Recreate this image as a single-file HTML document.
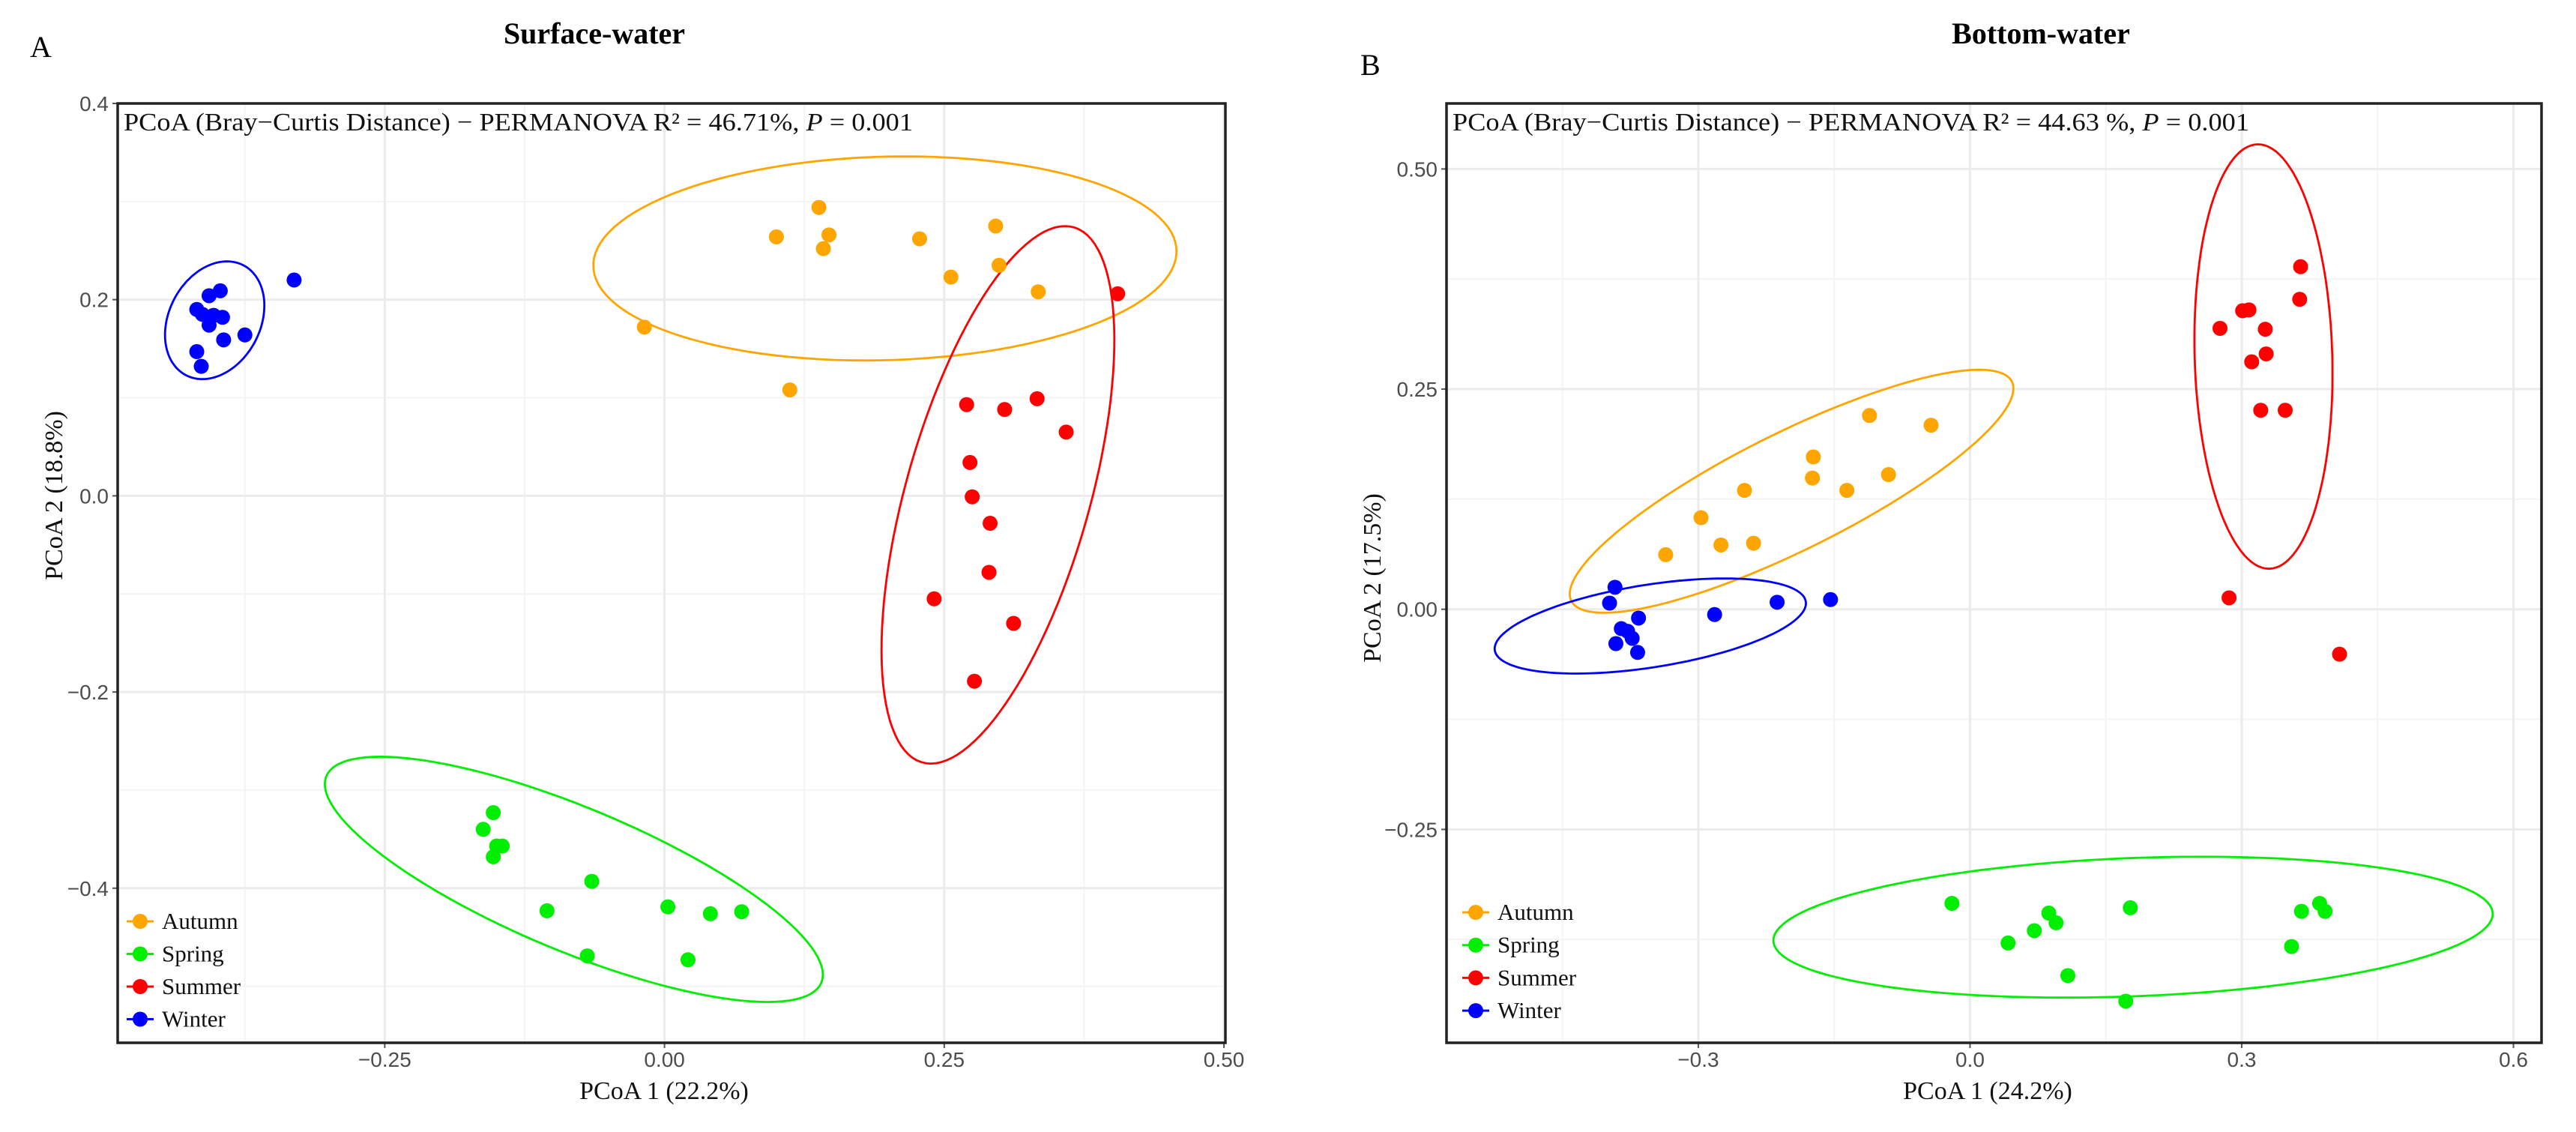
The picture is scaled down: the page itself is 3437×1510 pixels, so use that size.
<!DOCTYPE html>
<html><head><meta charset="utf-8">
<style>
html,body{margin:0;padding:0;background:#fff;}
svg{display:block;}
text{font-family:"Liberation Serif",serif;}
.tick{font-family:"Liberation Sans",sans-serif;font-size:28px;fill:#4d4d4d;}
</style></head>
<body>
<svg id="chart" width="3437" height="1510" viewBox="0 0 3437 1510" xmlns="http://www.w3.org/2000/svg"></svg>
<script>
// ---------- Panel A data (Surface-water) ----------
const seasons = ["Autumn","Spring","Summer","Winter"];
const seasonColors = ["#FFA500","#00EE00","#FF0000","#0000FF"];
const aAutumnX = [0.138,0.100,0.147,0.142,0.228,0.296,0.299,0.256,0.334,-0.018,0.112];
const aAutumnY = [0.294,0.264,0.266,0.252,0.262,0.275,0.235,0.223,0.208,0.172,0.108];
const aSpringX = [-0.153,-0.162,-0.150,-0.145,-0.153,-0.065,-0.105,0.003,0.041,0.069,-0.069,0.021];
const aSpringY = [-0.323,-0.340,-0.357,-0.357,-0.368,-0.393,-0.423,-0.419,-0.426,-0.424,-0.469,-0.473];
const aSummerX = [0.405,0.270,0.304,0.333,0.359,0.273,0.275,0.291,0.290,0.241,0.312,0.277];
const aSummerY = [0.206,0.093,0.088,0.099,0.065,0.034,-0.001,-0.028,-0.078,-0.105,-0.130,-0.189];
const aWinterX = [-0.331,-0.397,-0.407,-0.418,-0.413,-0.403,-0.395,-0.407,-0.375,-0.394,-0.418,-0.414];
const aWinterY = [0.220,0.209,0.204,0.190,0.185,0.184,0.182,0.174,0.164,0.159,0.147,0.132];
// ellipse stats: center, conjugate half-axis a (x,y), horizontal half-axis b
const aEllCx = [0.197,-0.081,0.298,-0.402];
const aEllCy = [0.242,-0.391,0.001,0.179];
const aEllAx = [0.018,-0.173,0.060,0.011];
const aEllAy = [0.104,0.125,0.274,0.060];
const aEllB  = [0.260,0.140,0.085,0.043];
const aXTicks = [-0.25,0,0.25,0.5];
const aXTickLabels = ["\u22120.25","0.00","0.25","0.50"];
const aYTicks = [0.4,0.2,0,-0.2,-0.4];
const aYTickLabels = ["0.4","0.2","0.0","\u22120.2","\u22120.4"];

// ---------- Panel B data (Bottom-water) ----------
const bAutumnX = [-0.111,-0.043,-0.173,-0.174,-0.090,-0.136,-0.249,-0.297,-0.275,-0.239,-0.336];
const bAutumnY = [0.220,0.209,0.173,0.149,0.153,0.135,0.135,0.104,0.073,0.075,0.062];
const bSpringX = [-0.020,0.177,0.087,0.095,0.071,0.042,0.108,0.172,0.386,0.366,0.392,0.355];
const bSpringY = [-0.334,-0.339,-0.345,-0.356,-0.365,-0.379,-0.416,-0.445,-0.334,-0.343,-0.343,-0.383];
const bSummerX = [0.365,0.364,0.276,0.301,0.308,0.326,0.327,0.311,0.321,0.348,0.286,0.408];
const bSummerY = [0.389,0.352,0.319,0.339,0.340,0.318,0.290,0.281,0.226,0.226,0.013,-0.051];
const bWinterX = [-0.392,-0.398,-0.154,-0.213,-0.282,-0.366,-0.385,-0.378,-0.373,-0.391,-0.367];
const bWinterY = [0.025,0.007,0.011,0.008,-0.006,-0.010,-0.022,-0.025,-0.033,-0.039,-0.049];
const bEllCx = [-0.197,0.180,0.324,-0.353];
const bEllCy = [0.134,-0.361,0.287,-0.019];
const bEllAx = [0.207,0.075,-0.006,0.082];
const bEllAy = [0.138,0.080,0.241,0.054];
const bEllB  = [0.131,0.390,0.076,0.151];
const bXTicks = [-0.3,0,0.3,0.6];
const bXTickLabels = ["\u22120.3","0.0","0.3","0.6"];
const bYTicks = [0.5,0.25,0,-0.25];
const bYTickLabels = ["0.50","0.25","0.00","\u22120.25"];

const NS = "http://www.w3.org/2000/svg";
const svg = document.getElementById("chart");
function mk(tag, attrs, parent){
  const e = document.createElementNS(NS, tag);
  for (const k in attrs) e.setAttribute(k, attrs[k]);
  (parent||svg).appendChild(e);
  return e;
}

function panel(cfg){
  const g = mk("g", {});
  
  
  const L=cfg.left,R=cfg.right,T=cfg.top,B=cfg.bottom;
  const sx = v => L + (v - cfg.xmin)/(cfg.xmax-cfg.xmin)*(R-L);
  const sy = v => T + (cfg.ymax - v)/(cfg.ymax-cfg.ymin)*(B-T);
  const xs = cfg.xTicks, ys = cfg.yTicks;
  const dx = xs[1]-xs[0], dy = ys[0]-ys[1];
  for (let v = xs[0]-dx*1.5; v <= cfg.xmax; v += dx){
    if (v < cfg.xmin) continue;
    const l = mk("line",{x1:sx(v),x2:sx(v),y1:T,y2:B,stroke:"#f4f4f4","stroke-width":2},g);
    
    
  }
  for (let v = ys[0]+dy*1.5; v >= cfg.ymin; v -= dy){
    if (v > cfg.ymax) continue;
    const l = mk("line",{x1:L,x2:R,y1:sy(v),y2:sy(v),stroke:"#f4f4f4","stroke-width":2},g);
    
    
  }
  xs.forEach((v,i)=>{
    const l = mk("line",{x1:sx(v),x2:sx(v),y1:T,y2:B,stroke:"#ebebeb","stroke-width":3},g);
    
    
    const tk = mk("line",{x1:sx(v),x2:sx(v),y1:B,y2:B+7,stroke:"#555","stroke-width":2},g);
    
    
    const t = mk("text",{x:sx(v),y:B+32,"text-anchor":"middle",class:"tick"},g);
    t.textContent = cfg.xTickLabels[i];
    
    
  });
  ys.forEach((v,i)=>{
    const l = mk("line",{x1:L,x2:R,y1:sy(v),y2:sy(v),stroke:"#ebebeb","stroke-width":3},g);
    
    
    const tk = mk("line",{x1:L-7,x2:L,y1:sy(v),y2:sy(v),stroke:"#555","stroke-width":2},g);
    
    
    const t = mk("text",{x:L-12,y:sy(v)+10,"text-anchor":"end",class:"tick"},g);
    t.textContent = cfg.yTickLabels[i];
    
    
  });
  seasons.forEach((s,i)=>{
    let d = "";
    for (let k=0;k<=120;k++){
      const t = k/120*2*Math.PI;
      const x = cfg.ell.cx[i] + cfg.ell.ax[i]*Math.cos(t) + cfg.ell.b[i]*Math.sin(t);
      const y = cfg.ell.cy[i] + cfg.ell.ay[i]*Math.cos(t);
      d += (k?"L":"M") + sx(x).toFixed(1) + "," + sy(y).toFixed(1);
    }
    const p = mk("path",{d:d+"Z",fill:"none",stroke:seasonColors[i],"stroke-width":2.8},g);
    
    
  });
  seasons.forEach((s,i)=>{
    const X = cfg.pts[i][0], Y = cfg.pts[i][1];
    X.forEach((xv,j)=>{
      const c = mk("circle",{cx:sx(xv),cy:sy(Y[j]),r:10,fill:seasonColors[i]},g);
      
      
    });
  });
  const rb = mk("rect",{x:L,y:T,width:R-L,height:B-T,fill:"none",stroke:"#222","stroke-width":3.5},g);
  
  
  const an = mk("text",{x:L+8,y:T+36,"font-size":34,fill:"#111",textLength:cfg.annLen,lengthAdjust:"spacingAndGlyphs"},g);
  an.innerHTML = 'PCoA (Bray\u2212Curtis Distance) \u2212 PERMANOVA R\u00b2 =  '+cfg.r2+', <tspan font-style="italic">P</tspan> =  0.001';
  
  
  seasons.forEach((s,i)=>{
    const y = cfg.legY + i*cfg.legStep;
    const lg = mk("g",{},g);
    
    
    mk("line",{x1:cfg.legX-18,x2:cfg.legX+18,y1:y,y2:y,stroke:seasonColors[i],"stroke-width":3},lg);
    mk("circle",{cx:cfg.legX,cy:y,r:10,fill:seasonColors[i]},lg);
    const t = mk("text",{x:cfg.legX+29,y:y+10,"font-size":31,fill:"#111"},lg);
    t.textContent = s;
  });
  const xt = mk("text",{x:cfg.xTitleX,y:1466,"text-anchor":"middle","font-size":34,fill:"#111"},g);
  xt.textContent = cfg.xTitle;
  
  
  const yt = mk("text",{x:0,y:0,"text-anchor":"middle","font-size":34,fill:"#111",transform:"translate("+cfg.yTitleX+","+cfg.yTitleY+") rotate(-90)"},g);
  yt.textContent = cfg.yTitle;
  
  
  const tt = mk("text",{x:cfg.titleX,y:58,"text-anchor":"middle","font-size":40,"font-weight":"bold",fill:"#000"},g);
  tt.textContent = cfg.title;
  
  
  const pl = mk("text",{x:cfg.labX,y:cfg.labY,"font-size":40,fill:"#000"},g);
  pl.textContent = cfg.lab;
  
  
}

panel({name:"panel-a-surface-water",left:157,right:1635,top:138,bottom:1391,
  xmin:-0.4887,xmax:0.5013,ymin:-0.5576,ymax:0.4,
  xTicks:aXTicks,xTickLabels:aXTickLabels,yTicks:aYTicks,yTickLabels:aYTickLabels,
  ell:{cx:aEllCx,cy:aEllCy,ax:aEllAx,ay:aEllAy,b:aEllB},
  pts:[[aAutumnX,aAutumnY],[aSpringX,aSpringY],[aSummerX,aSummerY],[aWinterX,aWinterY]],
  annLen:1053,r2:"46.71%",legX:187,legY:1229,legStep:43.5,
  xTitle:"PCoA 1 (22.2%)",xTitleX:886,yTitle:"PCoA 2 (18.8%)",yTitleX:83,yTitleY:661,
  title:"Surface-water",titleX:793,lab:"A",labX:40,labY:76});
panel({name:"panel-b-bottom-water",left:1930,right:3391,top:138,bottom:1391,
  xmin:-0.578,xmax:0.631,ymin:-0.4923,ymax:0.5744,
  xTicks:bXTicks,xTickLabels:bXTickLabels,yTicks:bYTicks,yTickLabels:bYTickLabels,
  ell:{cx:bEllCx,cy:bEllCy,ax:bEllAx,ay:bEllAy,b:bEllB},
  pts:[[bAutumnX,bAutumnY],[bSpringX,bSpringY],[bSummerX,bSummerY],[bWinterX,bWinterY]],
  annLen:1063,r2:"44.63 %",legX:1969,legY:1217,legStep:43.7,
  xTitle:"PCoA 1 (24.2%)",xTitleX:2652,yTitle:"PCoA 2 (17.5%)",yTitleX:1842,yTitleY:771,
  title:"Bottom-water",titleX:2723,lab:"B",labX:1815,labY:100});
</script>
</body></html>
